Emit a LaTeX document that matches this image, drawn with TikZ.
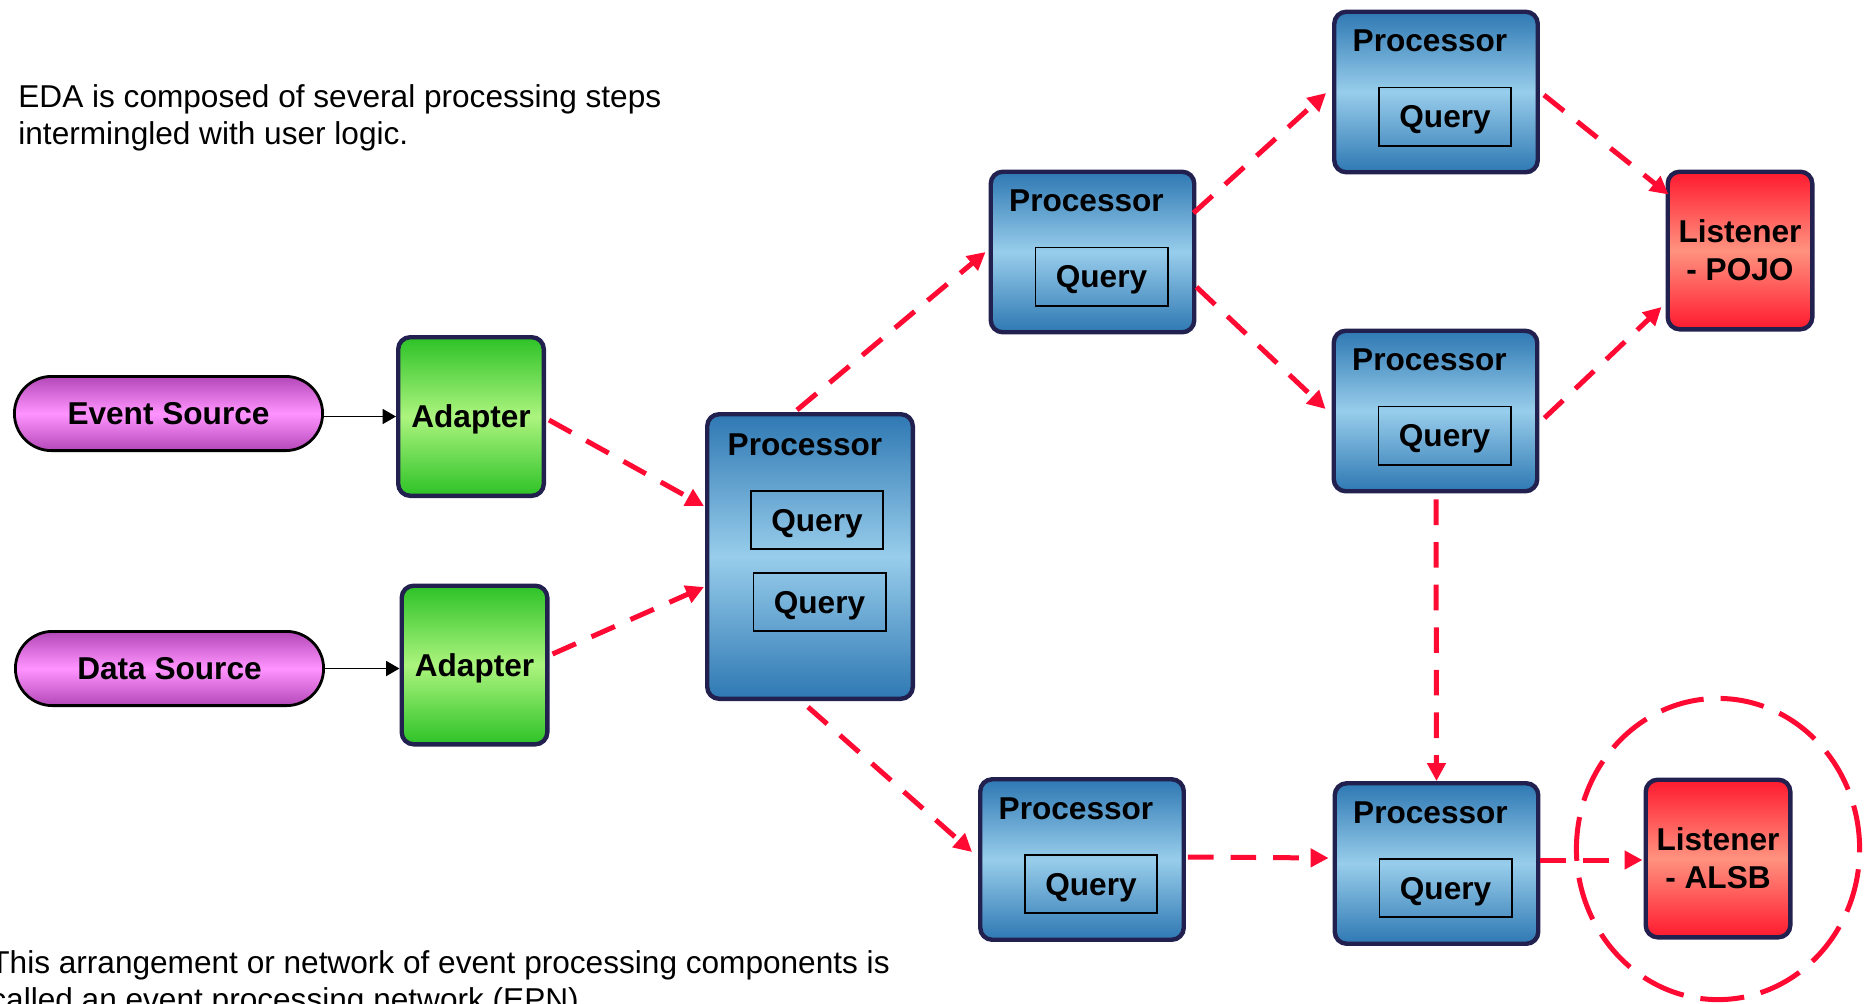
\documentclass[tikz,border=0pt]{standalone}
\usepackage{fontspec}
\setmainfont{Liberation Sans}
\usetikzlibrary{arrows.meta,calc}

\definecolor{edge}{HTML}{22204F}
\definecolor{flow}{HTML}{FF0A32}
\definecolor{procD}{HTML}{2E78B3}
\definecolor{procL}{HTML}{98CDEB}
\definecolor{adaD}{HTML}{2DC227}
\definecolor{adaL}{HTML}{ACF47E}
\definecolor{lisD}{HTML}{FF1A2E}
\definecolor{lisL}{HTML}{FF9280}
\definecolor{srcD}{HTML}{B548B8}
\definecolor{srcL}{HTML}{FF93FF}

\begin{document}
\begin{tikzpicture}[x=0.5pt,y=-0.5pt,
  txt/.style={font=\fontsize{15.8}{18.5}\selectfont, inner sep=0pt, anchor=base west},
  lbl/.style={font=\fontsize{15.8}{19}\selectfont\bfseries},
  box/.style={draw=edge, line width=2.2pt, rounded corners=6pt, inner sep=0pt, lbl},
  proc/.style={box, minimum width=101.75pt, minimum height=80.25pt,
    top color=procD, bottom color=procD, middle color=procL},
  bigproc/.style={proc, minimum width=102.8pt, minimum height=142.3pt},
  adapter/.style={box, minimum width=72.8pt, minimum height=79.3pt, text depth=0pt,
    top color=adaD, bottom color=adaD, middle color=adaL},
  listener/.style={box, minimum width=72.3pt, minimum height=78.8pt, align=center,
    top color=lisD, bottom color=lisD, middle color=lisL},
  source/.style={draw=black, line width=1.4pt, rounded corners=18.55pt, inner sep=0pt,
    minimum width=154.1pt, minimum height=37.1pt, lbl, text depth=0pt,
    top color=srcD, bottom color=srcD, middle color=srcL},
  query/.style={draw=black, line width=0.8pt, inner sep=0pt, minimum width=66.2pt,
    minimum height=29.2pt, lbl, text depth=0pt},
  ptitle/.style={lbl, inner sep=0pt, anchor=base},
  feed/.style={draw=black, line width=0.85pt, -{Triangle[length=6.7pt,width=7.5pt]}},
  flowline/.style={draw=flow, line width=2.5pt, dash pattern=on 12.8pt off 8.5pt,
    -{Triangle[length=9pt,width=9pt]}},
]
\useasboundingbox (0,0) rectangle (1872,1003);

% explanatory text
\node[txt] (introa) at (18,107) {EDA is composed of several processing steps};
\node[txt] (introb) at (18,144) {intermingled with user logic.};
\node[txt] (notea) at (-10,973) {This arrangement or network of event processing components is};
\node[txt] (noteb) at (-10,1010) {called an event processing network (EPN).};

% sources and adapters
\node[source] (es) at (168.5,413.5) {Event Source};
\node[source] (ds) at (169.5,668.5) {Data Source};
\node[adapter] (a1) at (471,416.5) {Adapter};
\node[adapter] (a2) at (474.5,665) {Adapter};

% central processor with two queries
\node[bigproc] (p0) at (810,556.5) {};
\node[ptitle] (p0t) at ($(p0)+(-5,-101.5)$) {Processor};
\node[query] (p0qa) at ($(p0)+(7,-36.5)$) {Query};
\node[query] (p0qb) at ($(p0)+(9.5,45.5)$) {Query};

% downstream processors
\node[proc] (p1) at (1092.5,252) {};
\node[proc] (p2) at (1436,92) {};
\node[proc] (p3) at (1435.5,411) {};
\node[proc] (p4) at (1082,859.5) {};
\node[proc] (p5) at (1436.5,863.5) {};
\foreach \p in {p1,p2,p3,p4,p5}{
  \node[ptitle] (\p t) at ($(\p)+(-6,-40.5)$) {Processor};
  \node[query] (\p q) at ($(\p)+(9,24.5)$) {Query};
}

% listeners
\node[listener] (pojo) at (1740,250.5) {Listener\\- POJO};
\node[listener] (alsb) at (1718,858.5) {Listener\\- ALSB};

% highlight ring round the ALSB listener
\draw[draw=flow, line width=2.5pt, dash pattern=on 22pt off 8.5pt]
  ($(alsb.center)+(0,-9.5)$) ellipse [x radius=70.8pt, y radius=75.3pt];

% source feeds
\draw[feed] (es.east |- a1.west) -- (a1.west);
\draw[feed] (ds.east) -- (ds.east -| a2.west);

% event flows
\draw[flowline] ($(a1.east)+(3,3.5)$) -- ($(p0.west)+(-1,-50.5)$);
\draw[flowline] ($(a2.east)+(3,-11)$) -- ($(p0.west)+(-1,30.5)$);
\draw[flowline] ($(p0.north)+(-13,-2)$) -- ($(p1.west)+(-3,0)$);
\draw[flowline] ($(p1.east)+(-3,-39)$) -- ($(p2.west)+(-6,1)$);
\draw[flowline] ($(p1.east)+(0,35)$) -- ($(p3.west)+(-6,-2)$);
\draw[flowline] ($(p2.east)+(4,3)$) -- ($(pojo.west)+(3,-56)$);
\draw[flowline] ($(p3.east)+(5,7)$) -- ($(pojo.west)+(-4,56.5)$);
\draw[flowline] ($(p0.south)+(-2,6)$) -- ($(p4.west)+(-6,-7.5)$);
\draw[flowline] ($(p3.south)+(0.5,6)$) -- (p5.north);
\draw[flowline] ($(p4.east)+(2,-2.5)$) -- ($(p5.west)+(-4,-5.5)$);
\draw[flowline] ($(p5.east)+(0,-3.5)$) -- ($(alsb.west)+(-1,1.5)$);
\end{tikzpicture}
\end{document}
